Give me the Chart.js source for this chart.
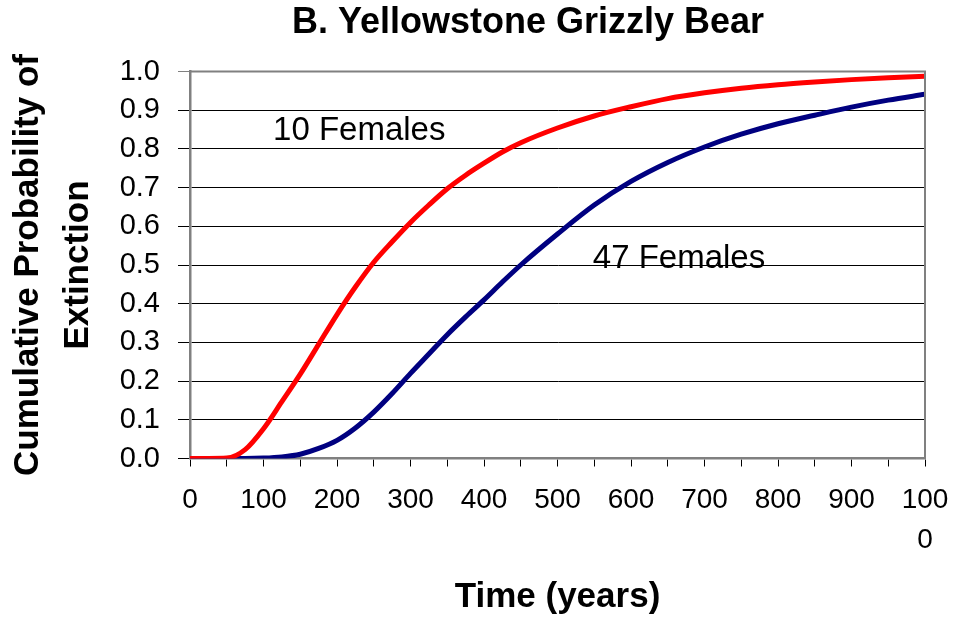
<!DOCTYPE html>
<html>
<head>
<meta charset="utf-8">
<script src="https://cdn.jsdelivr.net/npm/chart.js@4.4.1/dist/chart.umd.min.js"></script>
<style>
  html, body { margin: 0; padding: 0; background: #fff; }
  #wrap { width: 954px; height: 620px; position: relative; }
</style>
</head>
<body>
<div id="wrap"><canvas id="c" width="954" height="620"></canvas></div>
<script>
// values
const years = [0, 25, 50, 75, 100, 125, 150, 175, 200, 225, 250, 275, 300, 325, 350, 375, 400, 425, 450, 500,
               550, 600, 650, 700, 750, 800, 850, 900, 950, 1000];
const females10 = [0, 0, 0.001, 0.023, 0.077, 0.147, 0.218, 0.295, 0.372, 0.443, 0.507, 0.56, 0.61, 0.655, 0.697,
                   0.732, 0.763, 0.792, 0.816, 0.854, 0.885, 0.909, 0.93, 0.945, 0.957, 0.966, 0.973, 0.979, 0.984, 0.988];
const females47 = [0, 0, 0, 0, 0.001, 0.004, 0.011, 0.026, 0.047, 0.079, 0.12, 0.168, 0.22, 0.27, 0.32,
                   0.366, 0.41, 0.456, 0.5, 0.58, 0.655, 0.716, 0.765, 0.805, 0.838, 0.865, 0.887, 0.908, 0.926, 0.941];
const seriesLabels = ["10 Females", "47 Females"];
const labelSpots = [{ x: 113, y: 0.846 }, { x: 548, y: 0.515 }];
const titleText = "B. Yellowstone Grizzly Bear";
const xTitle = "Time (years)";
const yTitle = ["Cumulative Probability of", "Extinction"];

const FONT = "'Liberation Sans', Arial, sans-serif";
const GRAY = "#808080";

const toPoints = vals => years.map((y, i) => ({ x: y, y: vals[i] }));

const textPlugin = {
    id: "texts",
    afterDatasetsDraw(chart) {
        const { ctx, chartArea: a, scales: { x, y } } = chart;
        ctx.save();
        // gray frame on top & right
        ctx.strokeStyle = GRAY;
        ctx.lineWidth = 2;
        ctx.beginPath();
        ctx.moveTo(a.left, a.top);
        ctx.lineTo(a.right, a.top);
        ctx.lineTo(a.right, a.bottom);
        ctx.stroke();

        ctx.fillStyle = "#000";
        ctx.font = "33px " + FONT;
        ctx.textBaseline = "middle";
        ctx.textAlign = "left";
        seriesLabels.forEach((t, i) => {
            ctx.fillText(t, x.getPixelForValue(labelSpots[i].x), y.getPixelForValue(labelSpots[i].y));
        });

        ctx.font = "bold 36px " + FONT;
        ctx.textAlign = "center";
        ctx.fillText(titleText, 528, 23);
        ctx.restore();
    }
};

new Chart(document.getElementById("c"), {
    type: "line",
    data: {
        datasets: [
            { label: seriesLabels[0], data: toPoints(females10), borderColor: "#FF0000" },
            { label: seriesLabels[1], data: toPoints(females47), borderColor: "#000080" }
        ]
    },
    options: {
        responsive: false,
        animation: false,
        layout: { padding: { top: 71.5, right: 29, left: 0, bottom: 0 } },
        plugins: { legend: { display: false }, tooltip: { enabled: false }, title: { display: false } },
        elements: {
            line: { borderWidth: 5, cubicInterpolationMode: "monotone", fill: false },
            point: { radius: 0 }
        },
        scales: {
            x: {
                type: "linear",
                min: 0, max: 1000,
                afterFit: s => { s.height = 161.5; s.paddingLeft = 0; s.paddingRight = 0; },
                ticks: {
                    stepSize: 50,
                    autoSkip: false,
                    maxRotation: 0,
                    padding: 13,
                    color: "#000",
                    font: { family: FONT, size: 28, lineHeight: 1.45 },
                    callback: v => v % 100 !== 0 ? "" : (v === 1000 ? ["100", "0"] : String(v))
                },
                grid: { drawOnChartArea: false, drawTicks: true, tickLength: 8, color: "#000" },
                border: { color: GRAY, width: 2.5 },
                title: {
                    display: true, text: xTitle, color: "#000",
                    font: { family: FONT, size: 35, weight: "bold", lineHeight: 1.2 },
                    padding: { top: 0, bottom: 2 }
                }
            },
            y: {
                min: 0, max: 1,
                afterFit: s => { s.width = 190; },
                ticks: {
                    stepSize: 0.1,
                    padding: 18,
                    color: "#000",
                    font: { family: FONT, size: 29 },
                    callback: v => v.toFixed(1)
                },
                grid: {
                    color: ctx => ctx.tick && ctx.tick.value >= 1 ? GRAY : "#000",
                    lineWidth: 1,
                    tickLength: 12
                },
                border: { color: GRAY, width: 2.5 },
                title: {
                    display: true, text: yTitle, color: "#000",
                    font: { family: FONT, size: 35, weight: "bold", lineHeight: 1.43 },
                    padding: { top: 3, bottom: 0 }
                }
            }
        }
    },
    plugins: [textPlugin]
});
</script>
</body>
</html>
